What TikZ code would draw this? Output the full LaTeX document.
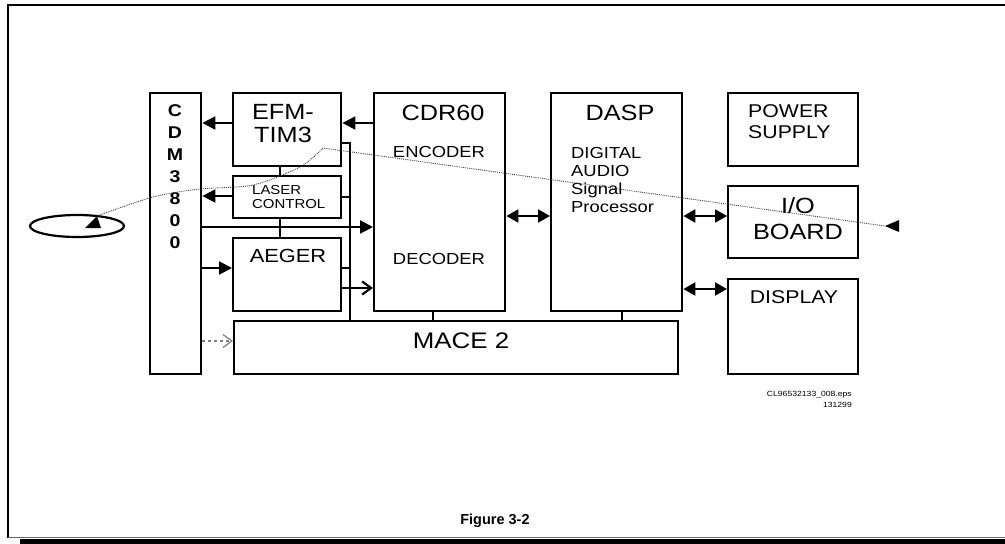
\documentclass[tikz,border=0pt]{standalone}
\usepackage{fontspec}
\setmainfont{Liberation Sans}[FakeStretch=1.15]
\newfontfamily\capfont{Liberation Sans}
\usetikzlibrary{arrows.meta,shapes.geometric}

\newcommand\setfs[2]{\fontsize{#1}{#2}\selectfont}

\tikzset{
  blk/.style={draw, line width=2.4pt, inner sep=0pt, anchor=north west},
  lbl/.style={inner sep=0pt, align=center},
  lbll/.style={inner sep=0pt, align=left, anchor=west},
  wire/.style={line width=2.2pt},
  fa/.style={wire, -{Triangle[length=13pt,width=13pt]}},
  fb/.style={wire, {Triangle[length=12pt,width=13pt]}-{Triangle[length=12pt,width=13pt]}},
  oa/.style={wire, -{Straight Barb[length=9pt,width=13pt]}},
  beam/.style={densely dotted, line width=0.9pt, black!75},
}

\begin{document}
\begin{tikzpicture}[x=1pt, y=-1pt]
\useasboundingbox (0,0) rectangle (1005,544);
\fill[white] (0,0) rectangle (1005,544);

% page frame
\draw[line width=1.6pt] (8,538) -- (8,5) -- (1005,5);
\draw[black!60, line width=1pt] (8,537.5) -- (1005,537.5);
\fill (20,539) rectangle (1005,544);

% blocks
\node[blk, minimum width=51pt,  minimum height=281pt] (cdm)   at (149,92)  {};
\node[blk, minimum width=108pt, minimum height=73pt]  (efm)   at (232,92)  {};
\node[blk, minimum width=108pt, minimum height=42pt]  (laser) at (232,175) {};
\node[blk, minimum width=108pt, minimum height=73pt]  (aeger) at (232,237) {};
\node[blk, minimum width=444pt, minimum height=53pt]  (mace)  at (233,320) {};
\node[blk, minimum width=131pt, minimum height=218pt] (cdr)   at (373,92)  {};
\node[blk, minimum width=131pt, minimum height=218pt] (dasp)  at (550,92)  {};
\node[blk, minimum width=130pt, minimum height=73pt]  (psu)   at (727,92)  {};
\node[blk, minimum width=130pt, minimum height=72pt]  (io)    at (727,185) {};
\node[blk, minimum width=130pt, minimum height=95pt]  (disp)  at (727,278) {};

% block texts
\node[lbl, font=\bfseries\setfs{17}{22}] (cdmT) at (175,177) {C\\D\\M\\3\\8\\0\\0};
\node[lbl, font=\setfs{22}{23}] (efmT) at (283,124) {EFM-\\TIM3};
\node[lbll, font=\setfs{13}{14}] (laserT) at (252,197) {LASER\\CONTROL};
\node[lbl, font=\setfs{19}{20}] (aegerT) at (288,256) {AEGER};
\node[lbl, font=\setfs{22}{23}] (cdrT) at (443,113) {CDR60};
\node[lbl, font=\setfs{16}{18}] (encT) at (439,152) {ENCODER};
\node[lbl, font=\setfs{16}{18}] (decT) at (439,259) {DECODER};
\node[lbl, font=\setfs{22}{23}] (daspT) at (620,113) {DASP};
\node[lbll, font=\setfs{16}{18}] (dspT) at (571,180) {DIGITAL\\AUDIO\\Signal\\Processor};
\node[lbll, font=\setfs{18.5}{21}] (psuT) at (748,122) {POWER\\SUPPLY};
\node[lbl, font=\setfs{22}{26}] (ioT) at (798,219) {I/O\\BOARD};
\node[lbl, font=\setfs{18.5}{20}] (dispT) at (794,297) {DISPLAY};
\node[lbl, font=\setfs{22.5}{23}] (maceT) at (461,341) {MACE 2};

% connections
\draw[fa] (efm.west |- 0,123) -- (cdm.east |- 0,123);
\draw[fa] (cdr.west |- 0,123) -- (efm.east |- 0,123);
\draw[fa] (laser.west |- 0,196) -- (cdm.east |- 0,196);
\draw[wire] (280,0 |- efm.south) -- (280,0 |- laser.north);
\draw[wire] (280,0 |- laser.south) -- (280,0 |- aeger.north);
\draw[fa] (cdm.east |- 0,227) -- (cdr.west |- 0,227);
\draw[fa] (cdm.east |- 0,268) -- (aeger.west |- 0,268);
\draw[oa] (aeger.east |- 0,288) -- (cdr.west |- 0,288);
\draw[wire, line width=1.8pt] (efm.east |- 0,143) -| (350,0 |- mace.north);
\draw[wire, line width=1.8pt] (laser.east |- 0,197) -- (350,197);
\draw[wire, line width=1.8pt] (aeger.east |- 0,268) -- (350,268);
\draw[wire] (433,0 |- cdr.south) -- (433,0 |- mace.north);
\draw[wire] (622,0 |- dasp.south) -- (622,0 |- mace.north);
\draw[fb] (cdr.east |- 0,216) -- (dasp.west |- 0,216);
\draw[fb] (dasp.east |- 0,216) -- (io.west |- 0,216);
\draw[fb] (dasp.east |- 0,289) -- (disp.west |- 0,289);
\draw[oa, dashed, black!50, line width=1.2pt] (cdm.east |- 0,341) -- (mace.west |- 0,341);

% disc and laser beam
\node[draw, ellipse, line width=2.2pt, minimum width=94pt, minimum height=22pt, inner sep=0pt] (disc) at (77,226) {};
\coordinate (spot) at (97,216);
\coordinate (beamend) at (885,226);
\fill (85,228) -- (101,228) -- (spot) -- cycle;
\fill (beamend) -- (899,220) -- (899,232) -- cycle;
\draw[beam] plot[smooth] coordinates {(spot) (153,197) (200,189) (253,185) (300,167) (323,148)} -- (beamend);

% file reference
\node[inner sep=0pt, anchor=east, font=\setfs{7.5}{9}] (ref1) at (852,395) {CL96532133\_008.eps};
\node[inner sep=0pt, anchor=east, font=\setfs{7.5}{9}] (ref2) at (852,405) {131299};

% caption
\node[inner sep=0pt, font=\capfont\bfseries\setfs{14.5}{16}] (cap) at (495,521) {Figure 3-2};
\end{tikzpicture}
\end{document}
